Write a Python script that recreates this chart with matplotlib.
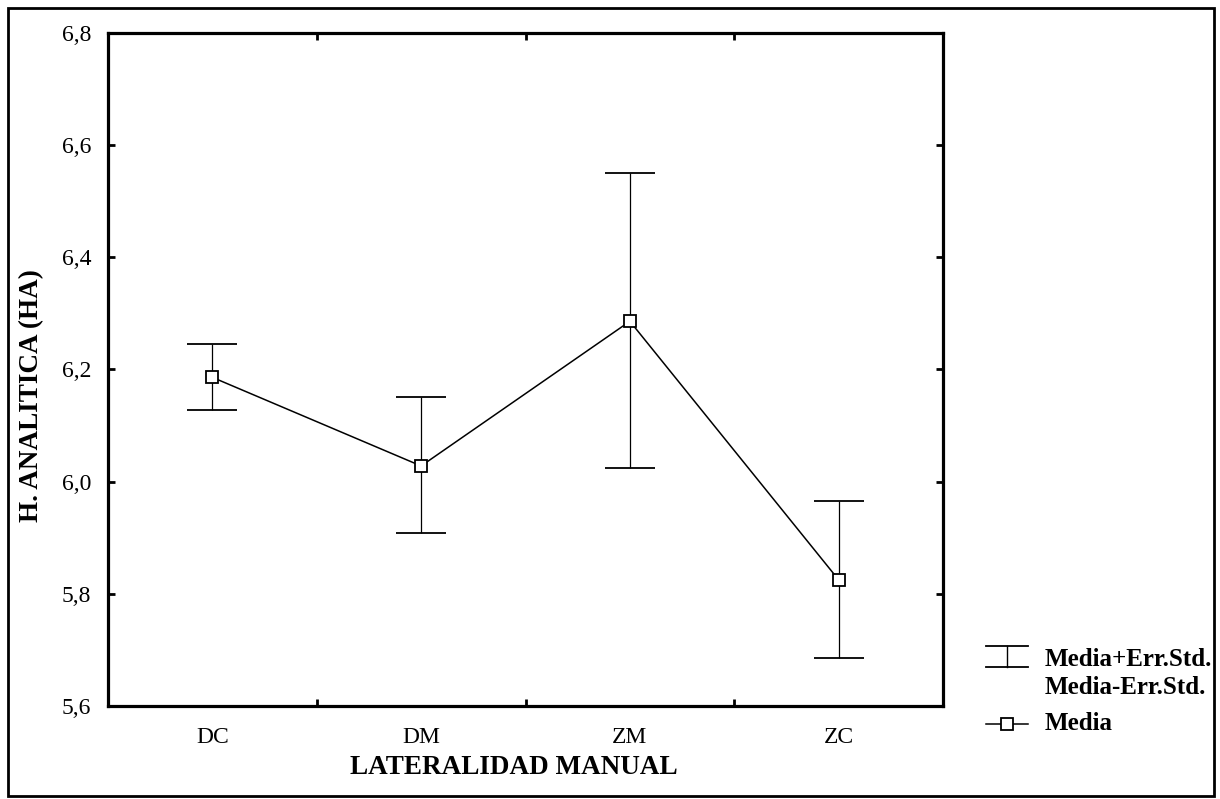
import matplotlib
matplotlib.use("Agg")
import matplotlib.pyplot as plt
from matplotlib.lines import Line2D
from matplotlib.patches import Rectangle

# ---- data ----
categories = ["DC", "DM", "ZM", "ZC"]
media = [6.186, 6.028, 6.286, 5.825]
upper = [6.245, 6.151, 6.551, 5.966]
lower = [6.128, 5.908, 6.025, 5.685]
yticks = [5.6, 5.8, 6.0, 6.2, 6.4, 6.6, 6.8]
ytick_labels = ["5,6", "5,8", "6,0", "6,2", "6,4", "6,6", "6,8"]

W, H = 1220, 799
fig = plt.figure(figsize=(W / 100, H / 100), dpi=100)
plt.rcParams['font.family'] = ['Liberation Serif', 'DejaVu Serif']

def fx(x):
    return x / W

def fy(y):
    return 1 - y / H

# outer frame
fig.patches.append(Rectangle((fx(8), fy(796)), fx(1214) - fx(8), fy(8) - fy(796),
                             transform=fig.transFigure, fill=False,
                             edgecolor='black', linewidth=2.0, zorder=0))

ax = fig.add_axes([fx(108), fy(706), fx(943) - fx(108), fy(33) - fy(706)])

x = list(range(len(categories)))
yerr_low = [m - l for m, l in zip(media, lower)]
yerr_up = [u - m for m, u in zip(media, upper)]

ax.errorbar(x, media, yerr=[yerr_low, yerr_up], fmt='none', ecolor='black',
            elinewidth=0.9, capsize=18, capthick=1.3, zorder=2)
ax.plot(x, media, color='black', linewidth=1.1, marker='s', markersize=8.5,
        markerfacecolor='white', markeredgecolor='black', markeredgewidth=1.3,
        zorder=3)

ax.set_xlim(-0.5, len(categories) - 0.5)
ax.set_ylim(5.6, 6.8)

ax.set_xticks(x)
ax.set_xticklabels(categories, fontsize=17)
ax.set_xticks([i + 0.5 for i in range(len(categories) - 1)], minor=True)
ax.tick_params(axis='x', which='major', length=0, pad=15)
ax.tick_params(axis='x', which='minor', direction='in', length=5, width=2,
               top=True, bottom=True)

ax.set_yticks(yticks)
ax.set_yticklabels(ytick_labels, fontsize=17)
ax.tick_params(axis='y', which='major', direction='in', length=5, width=2,
               left=True, right=True, pad=12)

for s in ax.spines.values():
    s.set_linewidth(2.3)

fig.text(fx(514), fy(768), "LATERALIDAD MANUAL", ha='center', va='center',
         fontsize=19.5, fontweight='bold')
fig.text(fx(32), fy(396), "H. ANALITICA (HA)", ha='center', va='center',
         rotation=90, fontsize=19.5, fontweight='bold')

# legend (manual)
fig.lines.append(Line2D([fx(986), fx(1028)], [fy(646), fy(646)], transform=fig.transFigure,
                        color='black', linewidth=1.3))
fig.lines.append(Line2D([fx(986), fx(1028)], [fy(667), fy(667)], transform=fig.transFigure,
                        color='black', linewidth=1.3))
fig.lines.append(Line2D([fx(1007), fx(1007)], [fy(646), fy(667)], transform=fig.transFigure,
                        color='black', linewidth=1.0))
fig.lines.append(Line2D([fx(986), fx(1028)], [fy(724), fy(724)], transform=fig.transFigure,
                        color='black', linewidth=1.1, zorder=3))
fig.lines.append(Line2D([fx(1007)], [fy(724)], transform=fig.transFigure,
                        color='black', linestyle='none', marker='s', markersize=8.5,
                        markerfacecolor='white', markeredgecolor='black',
                        markeredgewidth=1.3, zorder=4))
fig.text(fx(1045), fy(659), "Media+Err.Std.", ha='left', va='center', fontsize=18,
         fontweight='bold')
fig.text(fx(1045), fy(688), "Media-Err.Std.", ha='left', va='center', fontsize=18,
         fontweight='bold')
fig.text(fx(1045), fy(724), "Media", ha='left', va='center', fontsize=18,
         fontweight='bold')

fig.savefig("out.png", dpi=100)
